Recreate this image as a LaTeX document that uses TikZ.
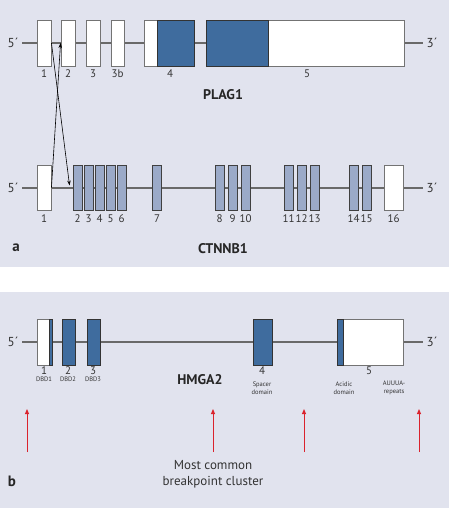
\documentclass[tikz,border=0pt]{standalone}
\usepackage{fontspec}
\setmainfont{PT Sans}
\usetikzlibrary{arrows.meta}
\definecolor{bg}{RGB}{225,227,238}
\definecolor{plagblue}{RGB}{63,108,158}
\definecolor{ctnblue}{RGB}{155,170,200}
\definecolor{bbone}{RGB}{105,105,105}
\definecolor{redarr}{RGB}{218,35,45}
\newcommand\ex[6]{\node[#1, minimum width={#4-#3}, minimum height=#6] (#2) at ({(#3+#4)/2},#5) {};}
\tikzset{
  wbox/.style={draw=black!55, fill=white, line width=0.9pt, inner sep=0pt},
  bbox/.style={draw=black!80, fill=plagblue, line width=0.9pt, inner sep=0pt},
  cbox/.style={draw=black!75, fill=ctnblue, line width=0.9pt, inner sep=0pt},
  backbone/.style={draw=bbone, line width=1.3pt},
  num/.style={font=\fontsize{11}{12}\selectfont, text=black!80, inner sep=0pt},
  tiny/.style={font=\fontsize{6.5}{7.5}\selectfont, text=black!80, inner sep=0pt, align=center},
  gene/.style={font=\bfseries\fontsize{14}{16}\selectfont, text=black!85, inner sep=0pt},
  panel/.style={font=\bfseries\fontsize{15}{16}\selectfont, text=black!85, inner sep=0pt},
  endlab/.style={font=\fontsize{13}{14}\selectfont, text=black!80, inner sep=0pt},
  fus/.style={draw=black, line width=0.6pt, -{Stealth[length=5pt,width=3.5pt]}},
  brk/.style={draw=redarr, line width=0.9pt, -{Triangle[length=5pt,width=4pt]}},
}
\begin{document}
\begin{tikzpicture}[x=1pt,y=-1pt]
\useasboundingbox (0,0) rectangle (450,508);
\fill[bg] (0,0) rectangle (449,267);
\fill[bg] (0,292) rectangle (449,508);

% ---------- PLAG1 ----------
\node[endlab] (p5p) at (13,43) {5´};
\node[endlab] (p3p) at (432,43) {3´};
\coordinate (pl) at (22,43);
\coordinate (pr) at (423,43);
\draw[backbone] (pl) -- (pr);
\ex{wbox}{p1}{37}{51}{43}{46}
\ex{wbox}{p2}{61}{75}{43}{46}
\ex{wbox}{p3}{86}{100}{43}{46}
\ex{wbox}{p3b}{111}{124}{43}{46}
\ex{wbox}{p4a}{144}{157}{43}{46}
\ex{bbox}{p4}{157}{194}{43}{46}
\ex{wbox}{p5}{206}{404}{43}{46}
\ex{bbox}{p5a}{206}{268}{43}{46}
\node[num] (lp1) at (44,74) {1};
\node[num] (lp2) at (68,74) {2};
\node[num] (lp3) at (93,74) {3};
\node[num] (lp3b) at (117.5,74) {3b};
\node[num] (lp4) at (170,74) {4};
\node[num] (lp5) at (307,74) {5};
\node[gene] (plag) at (223,95) {PLAG1};

% ---------- CTNNB1 ----------
\node[endlab] (c5p) at (13,188) {5´};
\node[endlab] (c3p) at (432,188) {3´};
\coordinate (cl) at (22,188);
\coordinate (cr) at (423,188);
\draw[backbone] (cl) -- (cr);
\ex{wbox}{c1}{37}{51}{187.5}{45}
\ex{cbox}{c2}{73}{82}{187.5}{45}
\ex{cbox}{c3}{84}{93}{187.5}{45}
\ex{cbox}{c4}{95}{104}{187.5}{45}
\ex{cbox}{c5}{106}{115}{187.5}{45}
\ex{cbox}{c6}{117}{126}{187.5}{45}
\ex{cbox}{c7}{152.5}{161.5}{187.5}{45}
\ex{cbox}{c8}{215}{224}{187.5}{45}
\ex{cbox}{c9}{228}{237}{187.5}{45}
\ex{cbox}{c10}{241}{250}{187.5}{45}
\ex{cbox}{c11}{284}{293}{187.5}{45}
\ex{cbox}{c12}{297}{306}{187.5}{45}
\ex{cbox}{c13}{310}{319}{187.5}{45}
\ex{cbox}{c14}{349}{358}{187.5}{45}
\ex{cbox}{c15}{362}{371}{187.5}{45}
\ex{wbox}{c16}{384}{403}{187.5}{45}
\foreach \i/\x in {1/44,2/77.5,3/88.5,4/99.5,5/110.5,6/121.5,7/157,8/219.5,9/232.5,10/245.5,11/288.5,12/301.5,13/314.5,14/353.5,15/366.5,16/393.5}
  \node[num] (lc\i) at (\x,219) {\i};
\node[gene] (ctn) at (223,249) {CTNNB1};
\node[panel] (pa) at (16,248) {a};

% fusion arrows
\draw[fus] (p1.east) -- ([xshift=-3pt,yshift=2pt]c2.west);
\draw[fus] (c1.east) -- (p2.west);

% ---------- HMGA2 ----------
\node[endlab] (h5p) at (13,342) {5´};
\node[endlab] (h3p) at (432,342) {3´};
\coordinate (hl) at (22,342);
\coordinate (hr) at (423,342);
\draw[backbone] (hl) -- (hr);
\ex{wbox}{h1}{37}{52}{342}{46}
\ex{bbox}{h1a}{49.5}{52}{342}{46}
\ex{bbox}{h2}{62}{75}{342}{46}
\ex{bbox}{h3}{87}{100}{342}{46}
\ex{bbox}{h4}{253}{272}{342}{46}
\ex{wbox}{h5}{337}{403}{342}{46}
\ex{bbox}{h5a}{337}{343}{342}{46}
\node[num] (lh1) at (44,371) {1};
\node[num] (lh2) at (68,371) {2};
\node[num] (lh3) at (93,371) {3};
\node[num] (lh4) at (262,371) {4};
\node[num] (lh5) at (369,371) {5};
\node[tiny] (d1) at (44,379) {DBD1};
\node[tiny] (d2) at (68,379) {DBD2};
\node[tiny] (d3) at (93,379) {DBD3};
\node[tiny] (d4) at (262,388) {Spacer\\domain};
\node[tiny] (d5) at (344,388) {Acidic\\domain};
\node[tiny] (d6) at (394,388) {AUUUA-\\repeats};
\node[gene] (hmga) at (200,380) {HMGA2};

% breakpoints
\foreach \n/\x in {1/27,2/213,3/304,4/419} {
  \coordinate (bs\n) at (\x,452);
  \coordinate (be\n) at (\x,409);
  \draw[brk] (bs\n) -- (be\n);
}
\node[font=\fontsize{13}{16}\selectfont, text=black!80, align=center, inner sep=0pt] (mcb) at (213,474) {Most common\\breakpoint cluster};
\node[panel] (pb) at (12,481) {b};
\end{tikzpicture}
\end{document}
